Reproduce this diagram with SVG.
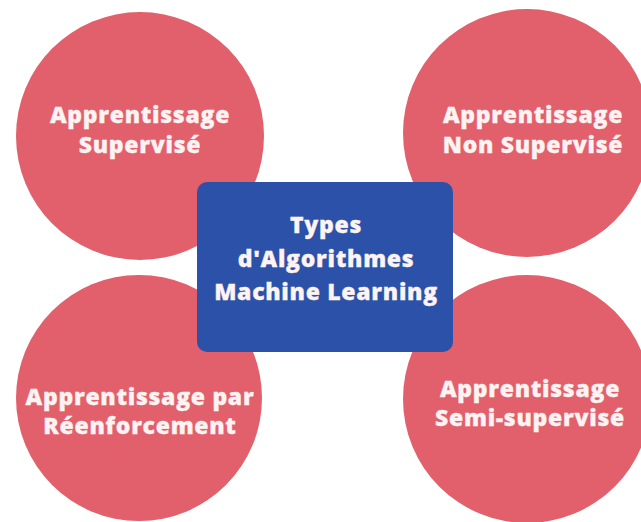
<svg xmlns="http://www.w3.org/2000/svg" width="641" height="522" viewBox="0 0 641 522">
<style>
.c{fill:#e2606b}
.t{font-family:"Open Sans","Liberation Sans",sans-serif;font-weight:800;font-size:23px;letter-spacing:0.7px;fill:#fdf3f3;text-anchor:middle;stroke:#fdf3f3;stroke-width:0.3px}
.b{fill:#2c51a8}
</style>
<rect width="641" height="522" fill="#ffffff"/>
<g id="connectors"></g>
<g id="n-supervise"><circle class="c" cx="140" cy="136" r="124"/>
<text class="t" x="140" y="123">Apprentissage</text><text class="t" x="140" y="153">Supervisé</text></g>
<g id="n-nonsupervise"><circle class="c" cx="527" cy="133" r="124"/>
<text class="t" x="533" y="123">Apprentissage</text><text class="t" x="533" y="153">Non Supervisé</text></g>
<g id="n-renforcement"><circle class="c" cx="139" cy="398" r="123"/>
<text class="t" x="140" y="405">Apprentissage par</text><text class="t" x="140" y="434">Réenforcement</text></g>
<g id="n-semi"><circle class="c" cx="527" cy="399" r="124"/>
<text class="t" x="530" y="397">Apprentissage</text><text class="t" x="530" y="426">Semi-supervisé</text></g>
<g id="n-center"><rect class="b" x="197" y="182" width="256" height="170" rx="10"/>
<text class="t" x="326" y="233">Types</text><text class="t" x="326" y="267">d'Algorithmes</text><text class="t" x="326" y="300">Machine Learning</text></g>
</svg>
